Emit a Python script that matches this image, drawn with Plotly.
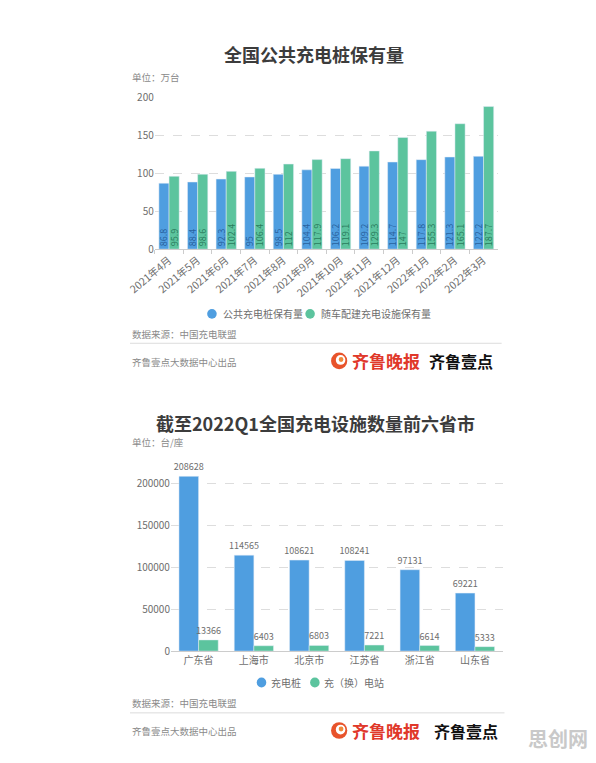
import plotly.graph_objects as go

W, H = 596, 763

# ---- data: chart 1 ----
months = ["2021年4月", "2021年5月", "2021年6月", "2021年7月", "2021年8月", "2021年9月",
          "2021年10月", "2021年11月", "2021年12月", "2022年1月", "2022年2月", "2022年3月"]
public_piles = [86.8, 88.4, 92.3, 95, 98.5, 104.4, 106.2, 109.2, 114.7, 117.8, 121.3, 122.2]
vehicle_piles = [95.9, 98.6, 102.4, 106.4, 112, 117.9, 119.1, 129.3, 147, 155.3, 165.1, 187.7]
y1_ticks = [0, 50, 100, 150, 200]

# ---- data: chart 2 ----
provinces = ["广东省", "上海市", "北京市", "江苏省", "浙江省", "山东省"]
charging_piles = [208628, 114565, 108621, 108241, 97131, 69221]
stations = [13366, 6403, 6803, 7221, 6614, 5333]
y2_ticks = [0, 50000, 100000, 150000, 200000]

BLUE = "#4f9ee0"
GREEN = "#5cc49e"
FONT = "Noto Sans CJK SC"
GRAY = "#6e6e6e"


def px_x(p):
    return p / W


def px_y(p):
    return 1 - p / H


fig = go.Figure()

fig.add_trace(go.Bar(
    x=months, y=public_piles, name="公共充电桩保有量", marker_color=BLUE,
    text=[f"{v:g}" for v in public_piles], textposition="inside",
    insidetextanchor="start", textangle=-90, constraintext="none",
    textfont=dict(size=9, color="rgba(30,80,140,0.8)", family=FONT),
    xaxis="x", yaxis="y", showlegend=False))
fig.add_trace(go.Bar(
    x=months, y=vehicle_piles, name="随车配建充电设施保有量", marker_color=GREEN,
    text=[f"{v:g}" for v in vehicle_piles], textposition="inside",
    insidetextanchor="start", textangle=-90, constraintext="none",
    textfont=dict(size=9, color="rgba(30,110,80,0.85)", family=FONT),
    xaxis="x", yaxis="y", showlegend=False))

fig.add_trace(go.Bar(
    x=provinces, y=charging_piles, name="充电桩", marker_color=BLUE,
    text=[str(v) for v in charging_piles], textposition="outside", constraintext="none",
    textfont=dict(size=9, color=GRAY, family=FONT), cliponaxis=False,
    xaxis="x2", yaxis="y2", showlegend=False))
fig.add_trace(go.Bar(
    x=provinces, y=stations, name="充（换）电站", marker_color=GREEN,
    text=[str(v) for v in stations], textposition="outside", constraintext="none",
    textfont=dict(size=9, color=GRAY, family=FONT), cliponaxis=False,
    xaxis="x2", yaxis="y2", showlegend=False))

axis_font = dict(size=10, color=GRAY, family=FONT)

fig.update_layout(
    width=W, height=H, margin=dict(l=0, r=0, t=0, b=0),
    paper_bgcolor="white", plot_bgcolor="white",
    barmode="group", bargap=0.29, bargroupgap=0, showlegend=False,
    font=dict(family=FONT, color=GRAY),
    xaxis=dict(domain=[px_x(133), px_x(493)], anchor="y", type="category",
               tickangle=-40, tickfont=dict(size=10.5, color=GRAY, family=FONT),
               showline=True, linecolor="#cccccc", ticks="outside", tickson="boundaries",
               ticklen=4, tickcolor="#cccccc", showgrid=False),
    yaxis=dict(domain=[px_y(246), px_y(91)], anchor="x", range=[0, 200],
               tickvals=y1_ticks, tickfont=axis_font, showline=False,
               gridcolor="#dddddd", griddash="dash", zeroline=False, ticks=""),
    xaxis2=dict(domain=[px_x(150), px_x(498)], anchor="y2", type="category",
                tickfont=dict(size=10, color=GRAY, family=FONT),
                showline=True, linecolor="#cccccc", showgrid=False),
    yaxis2=dict(domain=[px_y(656), px_y(468)], anchor="x2", range=[0, 220000],
                tickvals=y2_ticks, tickformat="d", tickfont=axis_font, showline=False,
                gridcolor="#dddddd", griddash="dash", zeroline=False, ticks=""),
)

annotations = []


def txt(text, x, y, size, color, xanchor="left", bold=False):
    t = f"<b>{text}</b>" if bold else text
    annotations.append(dict(text=t, x=px_x(x), y=px_y(y), xref="paper", yref="paper",
                            xanchor=xanchor, yanchor="middle", showarrow=False,
                            font=dict(size=size, color=color, family=FONT)))


# chart 1 texts
txt("全国公共充电桩保有量", 300, 47, 18, "#3c3c3c", "center", True)
txt("单位：万台", 107, 70, 9.5, "#8a8a8a")
txt("数据来源：中国充电联盟", 107, 333, 9.5, "#8a8a8a")
txt("齐鲁壹点大数据中心出品", 107, 361, 9.5, "#8a8a8a")
txt("齐鲁晚报", 338, 360, 17, "#e0382a", "left", True)
txt("齐鲁壹点", 490, 360, 16, "#111111", "right", True)

# chart 1 legend
txt("公共充电桩保有量", 202, 312, 10, GRAY)
txt("随车配建充电设施保有量", 305, 312, 10, GRAY)

# chart 2 texts
txt("截至2022Q1全国充电设施数量前六省市", 302, 423, 18, "#3c3c3c", "center", True)
txt("单位：台/座", 107, 443, 9.5, "#8a8a8a")
txt("数据来源：中国充电联盟", 107, 709, 9.5, "#8a8a8a")
txt("齐鲁壹点大数据中心出品", 107, 738, 9.5, "#8a8a8a")
txt("齐鲁晚报", 338, 737, 17, "#e0382a", "left", True)
txt("齐鲁壹点", 495, 737, 16, "#111111", "right", True)

# chart 2 legend
txt("充电桩", 253, 688, 10, GRAY)
txt("充（换）电站", 309, 688, 10, GRAY)

# watermark
txt("思创网", 590, 745, 20, "#c9c9c9", "right", True)

fig.update_layout(annotations=annotations)

shapes = [
    dict(type="line", xref="paper", yref="paper", x0=px_x(107), x1=px_x(497),
         y0=px_y(342), y1=px_y(342), line=dict(color="#dcdcdc", width=1)),
    dict(type="line", xref="paper", yref="paper", x0=px_x(107), x1=px_x(500),
         y0=px_y(719), y1=px_y(719), line=dict(color="#dcdcdc", width=1)),
]


def dot(cx, cy, col, r=5):
    shapes.append(dict(type="circle", xref="paper", yref="paper",
                       x0=px_x(cx - r), x1=px_x(cx + r), y0=px_y(cy + r), y1=px_y(cy - r),
                       fillcolor=col, line=dict(width=0)))


dot(193, 312, BLUE)
dot(296, 312, GREEN)
dot(245, 688, BLUE)
dot(301, 688, GREEN)

# logo icons
for cy in (360, 737):
    shapes.append(dict(type="circle", xref="paper", yref="paper",
                       x0=px_x(318), x1=px_x(335), y0=px_y(cy + 8.5), y1=px_y(cy - 8.5),
                       fillcolor="#e8532b", line=dict(width=0)))
    shapes.append(dict(type="circle", xref="paper", yref="paper",
                       x0=px_x(323), x1=px_x(333), y0=px_y(cy + 4), y1=px_y(cy - 6),
                       fillcolor="white", line=dict(width=0)))
    shapes.append(dict(type="circle", xref="paper", yref="paper",
                       x0=px_x(326), x1=px_x(331), y0=px_y(cy + 1), y1=px_y(cy - 4),
                       fillcolor="#f08a3a", line=dict(width=0)))
fig.update_layout(shapes=shapes)

fig.write_html("out.html")
